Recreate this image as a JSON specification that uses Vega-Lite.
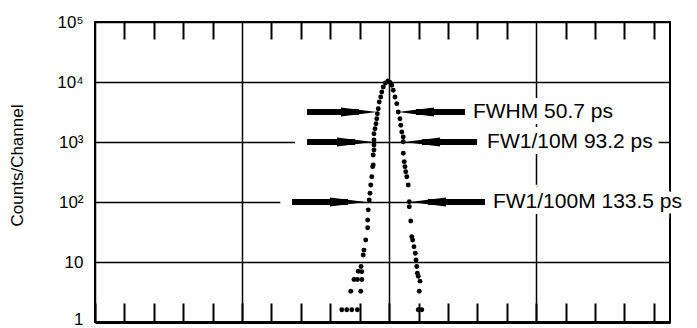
{
  "$schema": "https://vega.github.io/schema/vega-lite/v6.json",
  "width": 575,
  "height": 300,
  "autosize": {"type": "none"},
  "padding": {"left": 95, "top": 22, "right": 27, "bottom": 6},
  "background": "white",
  "config": {"view": {"stroke": "black", "strokeWidth": 2}, "font": "Liberation Sans"},
  "datasets": {
    "counts": [
      {"channel": 167.8, "counts": 1.6}, {"channel": 171.2, "counts": 1.6}, {"channel": 174.6, "counts": 1.6}, {"channel": 178.4, "counts": 1.6},
      {"channel": 173.9, "counts": 3.25}, {"channel": 180.7, "counts": 3.25},
      {"channel": 176.1, "counts": 5.1}, {"channel": 178.4, "counts": 5.1}, {"channel": 181.4, "counts": 5.1},
      {"channel": 179.0, "counts": 7.0}, {"channel": 181.4, "counts": 6.9}, {"channel": 180.9, "counts": 8.4},
      {"channel": 182.4, "counts": 13.1}, {"channel": 182.9, "counts": 15.8}, {"channel": 184.1, "counts": 23.3},
      {"channel": 185.4, "counts": 37.3}, {"channel": 185.4, "counts": 50}, {"channel": 185.8, "counts": 74},
      {"channel": 186.5, "counts": 108}, {"channel": 187.0, "counts": 140}, {"channel": 187.5, "counts": 192},
      {"channel": 188.2, "counts": 264}, {"channel": 188.8, "counts": 388}, {"channel": 189.2, "counts": 414},
      {"channel": 189.2, "counts": 607}, {"channel": 189.7, "counts": 736}, {"channel": 189.7, "counts": 891},
      {"channel": 189.7, "counts": 1080}, {"channel": 189.7, "counts": 1375}, {"channel": 190.4, "counts": 1667},
      {"channel": 191.1, "counts": 2018}, {"channel": 191.6, "counts": 2445}, {"channel": 192.0, "counts": 2963},
      {"channel": 192.6, "counts": 3589}, {"channel": 193.3, "counts": 4642}, {"channel": 194.3, "counts": 5623},
      {"channel": 195.0, "counts": 6813}, {"channel": 196.0, "counts": 8254}, {"channel": 197.5, "counts": 9624},
      {"channel": 199.2, "counts": 10390}, {"channel": 200.6, "counts": 9810}, {"channel": 201.8, "counts": 8810},
      {"channel": 202.8, "counts": 7271}, {"channel": 204.0, "counts": 5623}, {"channel": 205.2, "counts": 4348},
      {"channel": 206.2, "counts": 3162}, {"channel": 207.4, "counts": 2445}, {"channel": 207.9, "counts": 1897},
      {"channel": 208.6, "counts": 1468}, {"channel": 209.6, "counts": 1212}, {"channel": 209.6, "counts": 1012},
      {"channel": 209.6, "counts": 648}, {"channel": 210.3, "counts": 470}, {"channel": 210.8, "counts": 388},
      {"channel": 211.3, "counts": 320}, {"channel": 212.0, "counts": 264}, {"channel": 213.0, "counts": 192},
      {"channel": 213.7, "counts": 101}, {"channel": 213.7, "counts": 83.5}, {"channel": 214.7, "counts": 48.2},
      {"channel": 215.4, "counts": 26.4}, {"channel": 216.0, "counts": 23.3}, {"channel": 216.9, "counts": 18.0},
      {"channel": 217.8, "counts": 14.0}, {"channel": 218.3, "counts": 10.8}, {"channel": 218.8, "counts": 8.4},
      {"channel": 219.2, "counts": 6.5}, {"channel": 219.8, "counts": 5.8}, {"channel": 221.0, "counts": 4.8},
      {"channel": 220.5, "counts": 3.25}, {"channel": 219.8, "counts": 1.6}, {"channel": 222.2, "counts": 1.6}
    ],
    "shafts": [
      {"level": "FWHM", "x1": 144.2, "x2": 179.5, "m1": 136.0, "m2": 179.5, "counts": 3162},
      {"level": "FWHM", "x1": 218.3, "x2": 251.6, "m1": 218.3, "m2": 258.0, "counts": 3162},
      {"level": "FW1/10M", "x1": 144.2, "x2": 176.8, "m1": 136.0, "m2": 176.8, "counts": 1000},
      {"level": "FW1/10M", "x1": 222.4, "x2": 259.8, "m1": 222.4, "m2": 267.5, "counts": 1000},
      {"level": "FW1/100M", "x1": 134.0, "x2": 172.0, "m1": 126.0, "m2": 172.0, "counts": 100},
      {"level": "FW1/100M", "x1": 226.4, "x2": 265.2, "m1": 226.4, "m2": 271.5, "counts": 100}
    ],
    "heads": [
      {"level": "FWHM", "x": 179.5, "counts": 3162, "dir": "right"},
      {"level": "FWHM", "x": 218.3, "counts": 3162, "dir": "left"},
      {"level": "FW1/10M", "x": 176.8, "counts": 1000, "dir": "right"},
      {"level": "FW1/10M", "x": 222.4, "counts": 1000, "dir": "left"},
      {"level": "FW1/100M", "x": 172.0, "counts": 100, "dir": "right"},
      {"level": "FW1/100M", "x": 226.4, "counts": 100, "dir": "left"}
    ],
    "labels": [
      {"label": "FWHM 50.7 ps", "x": 257.0, "counts": 3162},
      {"label": "FW1/10M 93.2 ps", "x": 266.6, "counts": 1000},
      {"label": "FW1/100M 133.5 ps", "x": 270.6, "counts": 100}
    ]
  },
  "layer": [
    {
      "data": {"name": "counts"},
      "mark": {"type": "circle", "color": "black", "size": 24, "opacity": 1},
      "encoding": {
        "x": {
          "field": "channel", "type": "quantitative",
          "scale": {"domain": [0, 391], "nice": false, "zero": false},
          "axis": {
            "orient": "bottom",
            "values": [0, 20, 40, 60, 80, 100, 120, 140, 160, 180, 200, 220, 240, 260, 280, 300, 320, 340, 360, 380],
            "labels": false, "title": null,
            "tickSize": -19, "tickColor": "black", "tickWidth": 2,
            "domain": true, "domainColor": "black", "domainWidth": 3,
            "grid": true, "gridColor": "black", "gridWidth": 1.5,
            "gridOpacity": {"condition": {"test": "datum.value % 100 === 0", "value": 1}, "value": 0}
          }
        },
        "y": {
          "field": "counts", "type": "quantitative",
          "scale": {"type": "log", "domain": [1, 100000], "nice": false},
          "axis": {
            "values": [1, 10, 100, 1000, 10000, 100000],
            "labelExpr": "datum.value == 100000 ? '10⁵' : datum.value == 10000 ? '10⁴' : datum.value == 1000 ? '10³' : datum.value == 100 ? '10²' : datum.value == 10 ? '10' : '1'",
            "labelFont": "Liberation Sans", "labelFontSize": 17, "labelColor": "black", "labelPadding": 12,
            "labelOffset": {"condition": {"test": "datum.value == 1", "value": -3}, "value": 0},
            "ticks": false, "domain": false,
            "grid": true, "gridColor": "black", "gridWidth": 1.5, "gridOpacity": 1,
            "title": "Counts/Channel", "titleFont": "Liberation Sans", "titleFontSize": 17,
            "titleFontWeight": "normal", "titleColor": "black",
            "titleX": -78, "titleY": 143, "titleAlign": "center", "titleBaseline": "middle", "titleAngle": -90
          }
        }
      }
    },
    {
      "data": {"name": "shafts"},
      "mark": {"type": "rule", "color": "white", "strokeWidth": 14},
      "encoding": {
        "x": {
          "field": "m1", "type": "quantitative",
          "axis": {
            "orient": "top",
            "values": [20, 40, 60, 80, 120, 140, 160, 180, 220, 240, 260, 280, 320, 340, 360, 380],
            "labels": false, "title": null,
            "tickSize": -17, "tickColor": "black", "tickWidth": 2,
            "domain": false, "grid": false
          }
        },
        "x2": {"field": "m2"},
        "y": {"field": "counts", "type": "quantitative"}
      }
    },
    {
      "data": {"name": "shafts"},
      "mark": {"type": "rule", "color": "black", "strokeWidth": 6},
      "encoding": {
        "x": {"field": "x1", "type": "quantitative", "axis": null},
        "x2": {"field": "x2"},
        "y": {"field": "counts", "type": "quantitative"}
      }
    },
    {
      "data": {"name": "heads"},
      "mark": {"type": "point", "filled": true, "color": "black", "opacity": 1, "size": 1296, "strokeWidth": 0},
      "encoding": {
        "x": {"field": "x", "type": "quantitative", "axis": null},
        "y": {"field": "counts", "type": "quantitative"},
        "shape": {
          "field": "dir", "type": "nominal",
          "scale": {"domain": ["right", "left"], "range": ["M -1 -0.25 L 1 0 L -1 0.25 Z", "M 1 -0.25 L -1 0 L 1 0.25 Z"]},
          "legend": null
        }
      }
    },
    {
      "data": {"name": "labels"},
      "mark": {"type": "text", "align": "left", "baseline": "middle", "fontSize": 21, "font": "Liberation Sans", "color": "white", "stroke": "white", "strokeWidth": 12},
      "encoding": {
        "x": {"field": "x", "type": "quantitative", "axis": null},
        "y": {"field": "counts", "type": "quantitative"},
        "text": {"field": "label"}
      }
    },
    {
      "data": {"name": "labels"},
      "mark": {"type": "text", "align": "left", "baseline": "middle", "fontSize": 21, "font": "Liberation Sans", "color": "black"},
      "encoding": {
        "x": {"field": "x", "type": "quantitative", "axis": null},
        "y": {"field": "counts", "type": "quantitative"},
        "text": {"field": "label"}
      }
    }
  ],
  "resolve": {"axis": {"x": "independent"}}
}
